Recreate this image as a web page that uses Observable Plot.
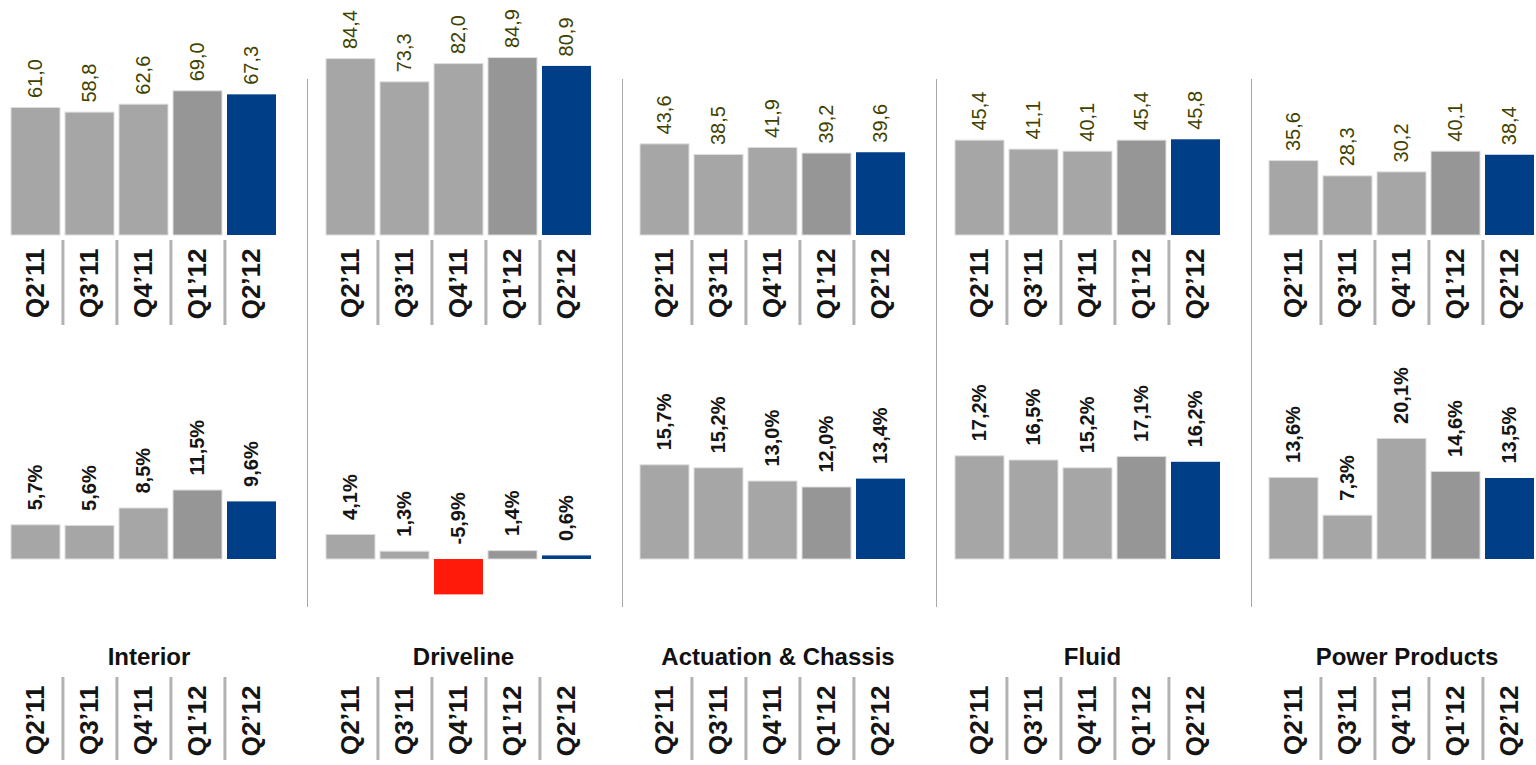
<!DOCTYPE html>
<html><head><meta charset="utf-8">
<script src="https://cdn.jsdelivr.net/npm/d3@7"></script>
<script src="https://cdn.jsdelivr.net/npm/@observablehq/plot@0.6"></script>
<style>
body{margin:0;background:#fff;}
#root{position:relative;width:1536px;height:765px;overflow:hidden;background:#fff;font-family:"Liberation Sans",Arial,sans-serif;}
.sep{position:absolute;top:79px;height:528px;width:0;border-left:1.5px solid #a8a8a8;}
.title{position:absolute;top:645px;height:24px;line-height:24px;font-weight:bold;font-size:24px;color:#111;text-align:center;white-space:nowrap;}
</style></head>
<body><div id="root"></div>
<script>
// ---- data ----
const quarters = ["Q2’11", "Q3’11", "Q4’11", "Q1’12", "Q2’12"];
const segments = ["Interior", "Driveline", "Actuation & Chassis", "Fluid", "Power Products"];
const interiorSales  = [61.0, 58.8, 62.6, 69.0, 67.3];
const drivelineSales = [84.4, 73.3, 82.0, 84.9, 80.9];
const actuationSales = [43.6, 38.5, 41.9, 39.2, 39.6];
const fluidSales     = [45.4, 41.1, 40.1, 45.4, 45.8];
const powerSales     = [35.6, 28.3, 30.2, 40.1, 38.4];
const interiorMargin  = [5.7, 5.6, 8.5, 11.5, 9.6];
const drivelineMargin = [4.1, 1.3, -5.9, 1.4, 0.6];
const actuationMargin = [15.7, 15.2, 13.0, 12.0, 13.4];
const fluidMargin     = [17.2, 16.5, 15.2, 17.1, 16.2];
const powerMargin     = [13.6, 7.3, 20.1, 14.6, 13.5];

const salesSeries  = [interiorSales, drivelineSales, actuationSales, fluidSales, powerSales];
const marginSeries = [interiorMargin, drivelineMargin, actuationMargin, fluidMargin, powerMargin];

// ---- styles ----
const barColors = ["#a6a6a6", "#a6a6a6", "#a6a6a6", "#969696", "#003f87"];
const negColor = "#ff1a0a";
const valueColor = "#3f4200";
const fontMain = "Liberation Sans, Arial, sans-serif";

const root = document.getElementById("root");
const W = 314, ML = 10, MR = 36, PI = 0.09, PO = 0.02;
const step = (W - ML - MR) / (quarters.length - PI + 2 * PO);
const xOpts = {type: "band", domain: quarters, paddingInner: PI, paddingOuter: PO, axis: null};
const fmt = v => v.toFixed(1).replace(".", ",");
const colorOf = d => d.v < 0 ? negColor : barColors[quarters.indexOf(d.q)];

function place(el, left, top) {
  el.style.position = "absolute";
  el.style.left = left + "px";
  el.style.top = top + "px";
  root.append(el);
}

function labelRow() {
  return [
    Plot.ruleX(quarters.slice(1), {dx: -step / 2, stroke: "#b2b2b2", strokeWidth: 3}),
    Plot.text(quarters, {x: d => d, frameAnchor: "top", dy: 8, rotate: -90, textAnchor: "end", lineAnchor: "middle",
      fontSize: 26, fontWeight: "bold", fontFamily: fontMain, fill: "#151515"})
  ];
}

segments.forEach((seg, i) => {
  const left = i * 314.5;
  const salesRows = quarters.map((q, j) => ({q, v: salesSeries[i][j]}));
  const marginRows = quarters.map((q, j) => ({q, v: marginSeries[i][j]}));

  const topPlot = Plot.plot({
    width: W, height: 237, marginLeft: ML, marginRight: MR, marginTop: 26, marginBottom: 2,
    style: {background: "transparent", overflow: "visible"},
    x: xOpts, y: {domain: [0, 100], axis: null}, color: {type: "identity"},
    marks: [
      Plot.barY(salesRows, {x: "q", y: "v", fill: colorOf, stroke: d => d.q === quarters[4] ? "none" : "#dedede", strokeWidth: 1}),
      Plot.text(salesRows, {x: "q", y: "v", text: d => fmt(d.v), rotate: -90, textAnchor: "start", lineAnchor: "middle",
        dy: -10, fontSize: 20, fontFamily: fontMain, fill: valueColor})
    ]
  });
  place(topPlot, left, 0);

  const topLabels = Plot.plot({
    width: W, height: 100, marginLeft: ML, marginRight: MR, marginTop: 3, marginBottom: 12,
    style: {background: "transparent", overflow: "visible"},
    x: xOpts, marks: labelRow()
  });
  place(topLabels, left, 237);

  const botPlot = Plot.plot({
    width: W, height: 280, marginLeft: ML, marginRight: MR, marginTop: 39, marginBottom: 1,
    style: {background: "transparent", overflow: "visible"},
    x: xOpts, y: {domain: [-10, 30], axis: null}, color: {type: "identity"},
    marks: [
      Plot.barY(marginRows, {x: "q", y: "v", fill: colorOf, stroke: d => d.q === quarters[4] || d.v < 0 ? "none" : "#dedede", strokeWidth: 1}),
      Plot.text(marginRows, {x: "q", y: d => Math.max(0, d.v), text: d => fmt(d.v) + "%", rotate: -90, textAnchor: "start",
        lineAnchor: "middle", dy: -15, fontSize: 20, fontWeight: "bold", fontFamily: fontMain, fill: "#151515"})
    ]
  });
  place(botPlot, left, 340);

  const t = document.createElement("div");
  t.className = "title";
  t.textContent = seg;
  t.style.left = (left + 15) + "px";
  t.style.width = (W - ML - MR) + "px";
  root.append(t);

  const botLabels = Plot.plot({
    width: W, height: 93, marginLeft: ML, marginRight: MR, marginTop: 5, marginBottom: 5,
    style: {background: "transparent", overflow: "visible"},
    x: xOpts, marks: labelRow()
  });
  place(botLabels, left, 672);

  if (i > 0) {
    const s = document.createElement("div");
    s.className = "sep";
    s.style.left = (left - 7.5) + "px";
    root.append(s);
  }
});
</script>
</body></html>
